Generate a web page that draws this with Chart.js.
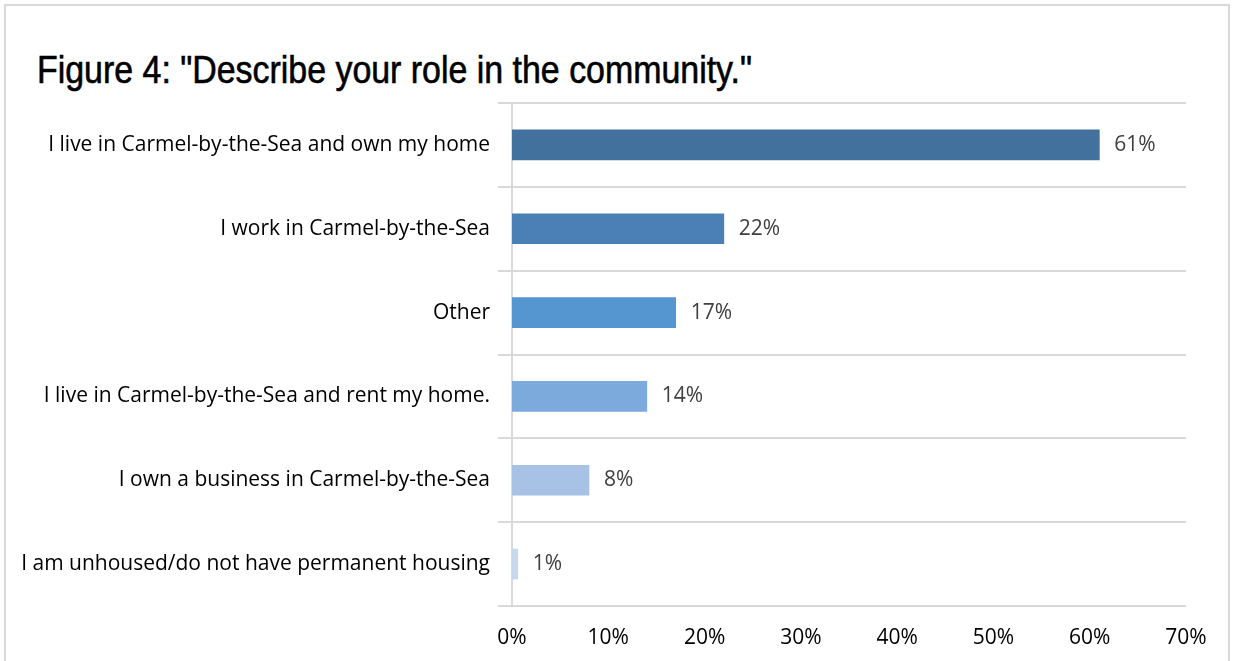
<!DOCTYPE html>
<html>
<head>
<meta charset="utf-8">
<script src="https://cdn.jsdelivr.net/npm/chart.js@4.4.1/dist/chart.umd.min.js"></script>
<style>
  html, body { margin: 0; padding: 0; background: #fff; }
  #wrap { position: relative; width: 1236px; height: 661px; overflow: hidden; }
  #frame { position: absolute; left: 4px; top: 4px; width: 1226px; height: 700px; border: 2px solid #d9d9d9; box-sizing: border-box; }
  #title { position: absolute; left: 37px; top: 51px; font-family: "Liberation Sans Narrow", "Arial Narrow", "Liberation Sans", sans-serif; font-size: 38px; line-height: 1; font-weight: normal; -webkit-text-stroke: 0.6px #000; color: #000; white-space: nowrap; transform-origin: 0 0; }
  #c { position: absolute; left: 0; top: 0; }
</style>
</head>
<body>
<div id="wrap">
  <div id="frame"></div>
  <div id="title">Figure 4: "Describe your role in the community."</div>
  <canvas id="c" width="1236" height="661"></canvas>
</div>
<script>
const categories = [
  "I live in Carmel-by-the-Sea and own my home",
  "I work in Carmel-by-the-Sea",
  "Other",
  "I live in Carmel-by-the-Sea and rent my home.",
  "I own a business in Carmel-by-the-Sea",
  "I am unhoused/do not have permanent housing"
];
const values = [61, 22, 17, 14, 8, 0.6];
const valueLabels = ["61%", "22%", "17%", "14%", "8%", "1%"];
const barColors = ["#41719c", "#4a80b5", "#5596d0", "#7caadc", "#a7c2e5", "#c7d7ee"];
const xTicks = [0, 10, 20, 30, 40, 50, 60, 70];

// condense the title to the reference width
const t = document.getElementById('title');
const w = t.getBoundingClientRect().width;
t.style.transform = 'scaleX(' + (715 / w) + ')';

const labelFont = { family: "'Open Sans', sans-serif", size: 21 };

const valueLabelPlugin = {
  id: 'valueLabels',
  afterDatasetsDraw(chart) {
    const ctx = chart.ctx;
    const meta = chart.getDatasetMeta(0);
    ctx.save();
    ctx.font = `${labelFont.size}px ${labelFont.family}`;
    ctx.fillStyle = '#404040';
    ctx.textAlign = 'left';
    ctx.textBaseline = 'middle';
    meta.data.forEach((bar, i) => {
      ctx.fillText(valueLabels[i], bar.x + 15, bar.y);
    });
    ctx.restore();
  }
};

new Chart(document.getElementById('c'), {
  type: 'bar',
  data: {
    labels: categories,
    datasets: [{
      data: values,
      backgroundColor: barColors,
      barThickness: 30,
      borderWidth: 0
    }]
  },
  options: {
    indexAxis: 'y',
    responsive: false,
    animation: false,
    maintainAspectRatio: false,
    layout: { padding: { top: 103, right: 50, bottom: 0, left: 0 } },
    plugins: { legend: { display: false }, tooltip: { enabled: false }, title: { display: false } },
    scales: {
      x: {
        min: 0, max: 70,
        afterBuildTicks(scale) { scale.ticks = xTicks.map(v => ({ value: v })); },
        afterFit(scale) { scale.height = 55; },
        grid: { display: false },
        border: { display: false },
        ticks: {
          padding: 11,
          color: '#000',
          font: labelFont,
          maxRotation: 0,
          callback: (v) => v + '%'
        }
      },
      y: {
        afterFit(scale) { scale.width = 512; },
        grid: { display: true, offset: true, color: '#d9d9d9', lineWidth: 2, tickLength: 14 },
        border: { display: true, color: '#d9d9d9', width: 2 },
        ticks: { padding: 8, color: '#000', font: labelFont }
      }
    }
  },
  plugins: [valueLabelPlugin]
});
</script>
</body>
</html>
